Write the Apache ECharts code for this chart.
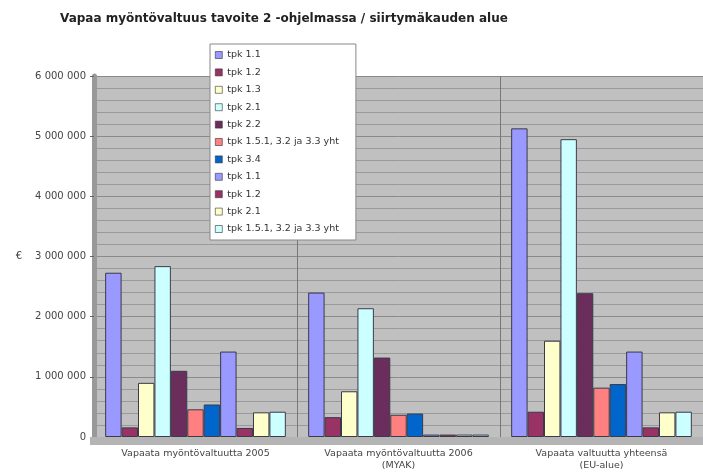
<!DOCTYPE html>
<html>
<head>
<meta charset="utf-8">
<script src="https://cdn.jsdelivr.net/npm/echarts@6/dist/echarts.min.js"></script>
<style>html,body{margin:0;padding:0;background:#fff;overflow:hidden}#c{width:703px;height:474px}</style>
</head>
<body>
<div id="c"></div>
<script>
var titleText = 'Vapaa myöntövaltuus tavoite 2 -ohjelmassa / siirtymäkauden alue';
var categories = ['Vapaata myöntövaltuutta 2005', 'Vapaata myöntövaltuutta 2006\n(MYAK)', 'Vapaata valtuutta yhteensä\n(EU-alue)'];
var seriesNames = ['tpk 1.1', 'tpk 1.2', 'tpk 1.3', 'tpk 2.1', 'tpk 2.2', 'tpk 1.5.1, 3.2 ja 3.3 yht', 'tpk 3.4', 'tpk 1.1\u200B', 'tpk 1.2\u200B', 'tpk 2.1\u200B', 'tpk 1.5.1, 3.2 ja 3.3 yht\u200B'];
var s1 = [2730000, 2400000, 5130000];
var s2 = [160000, 330000, 420000];
var s3 = [900000, 760000, 1600000];
var s4 = [2840000, 2140000, 4950000];
var s5 = [1100000, 1320000, 2390000];
var s6 = [460000, 370000, 820000];
var s7 = [540000, 390000, 880000];
var s8 = [1420000, 40000, 1420000];
var s9 = [150000, 40000, 160000];
var s10 = [410000, 40000, 410000];
var s11 = [420000, 40000, 420000];
var yTicks = [0, 1000000, 2000000, 3000000, 4000000, 5000000, 6000000];

var allValues = [s1, s2, s3, s4, s5, s6, s7, s8, s9, s10, s11];
var colors = ['#9999FF', '#993366', '#FFFFCC', '#CCFFFF', '#6b2d5b', '#FF8080', '#0066CC', '#9999FF', '#993366', '#FFFFCC', '#CCFFFF'];
var FONT = 'DejaVu Sans, Verdana, sans-serif';

function fmt(v) {
  if (v === 0) return '0';
  return String(v).replace(/\B(?=(\d{3})+(?!\d))/g, ' ');
}

var series = seriesNames.map(function (n, i) {
  return {
    name: n,
    type: 'bar',
    data: allValues[i],
    barGap: '0%',
    barCategoryGap: '11%',
    itemStyle: { color: colors[i], borderColor: '#3a3a4a', borderWidth: 1 },
    z: 3
  };
});

var chart = echarts.init(document.getElementById('c'));
chart.setOption({
  animation: false,
  color: colors,
  title: {
    text: titleText,
    left: 55, top: 8,
    textStyle: { fontFamily: FONT, fontSize: 12, fontWeight: 'bold', color: '#222' }
  },
  legend: {
    orient: 'vertical',
    left: 210, top: 44,
    data: seriesNames,
    itemWidth: 7, itemHeight: 7, itemGap: 7.4,
    icon: 'rect',
    padding: [6, 17, 6, 5],
    backgroundColor: '#fff',
    borderColor: '#888', borderWidth: 1,
    itemStyle: { borderColor: '#333', borderWidth: 0.6 },
    textStyle: { fontFamily: FONT, fontSize: 9.5, color: '#333' },
    z: 10
  },
  grid: { left: 94, right: 0, top: 76, bottom: 37, show: true, backgroundColor: '#c0c0c0', borderWidth: 0 },
  xAxis: {
    type: 'category',
    data: categories,
    axisTick: { show: false },
    axisLine: { show: true, lineStyle: { color: '#888', width: 1 } },
    axisLabel: { fontFamily: FONT, fontSize: 9.5, color: '#444', margin: 11, lineHeight: 12 },
    splitLine: { show: true, interval: 0, lineStyle: { color: '#777', width: 1 } }
  },
  yAxis: {
    type: 'value',
    min: 0, max: 6000000, interval: 1000000,
    name: '€',
    nameLocation: 'middle',
    nameRotate: 0,
    nameGap: 72,
    nameTextStyle: { fontFamily: FONT, fontSize: 10, color: '#333' },
    axisLine: { show: true, lineStyle: { color: '#999', width: 5 } },
    axisTick: { show: true, length: 4, lineStyle: { color: '#666' } },
    axisLabel: {
      fontFamily: FONT, fontSize: 10, color: '#444', margin: 8,
      formatter: function (v) { return yTicks.indexOf(v) >= 0 ? fmt(v) : ''; }
    },
    splitLine: { show: true, lineStyle: { color: '#8a8a8a', width: 1 } },
    minorTick: { show: false, splitNumber: 5 },
    minorSplitLine: { show: true, lineStyle: { color: '#9a9a9a', width: 1 } }
  },
  graphic: [{
    type: 'rect',
    shape: { x: 90, y: 437, width: 620, height: 8 },
    style: { fill: '#b4b4b4' },
    z: 1
  }],
  series: series
});
</script>
</body>
</html>
